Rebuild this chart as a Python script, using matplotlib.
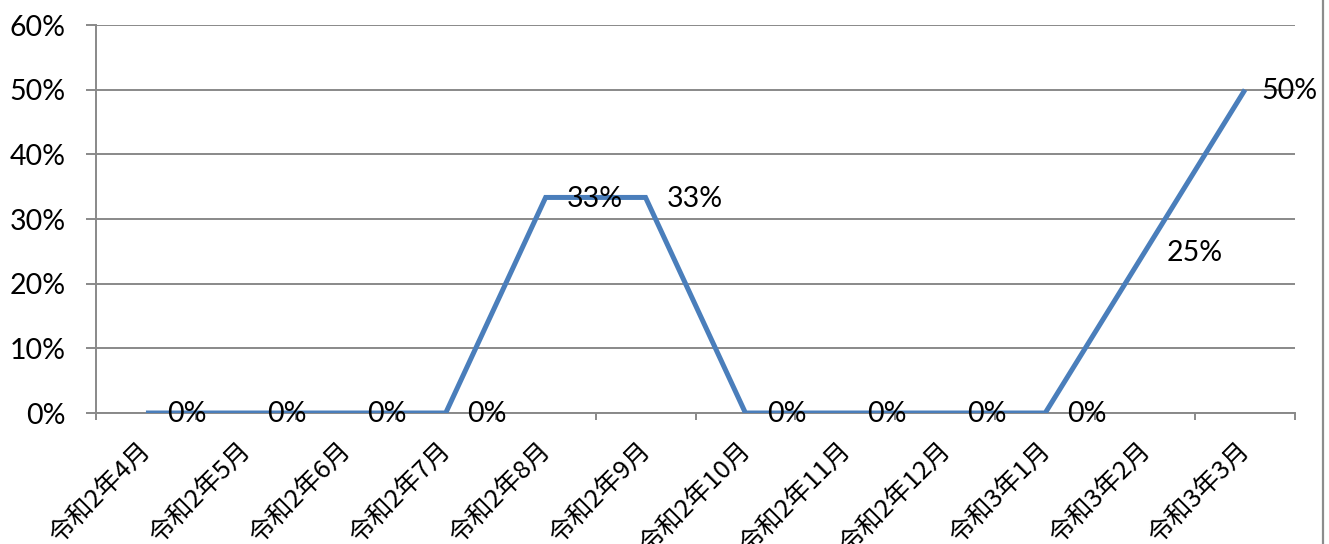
import matplotlib
matplotlib.use("Agg")
import matplotlib.pyplot as plt
from matplotlib.lines import Line2D
from matplotlib.ticker import FixedLocator, FuncFormatter

plt.rcParams['font.family'] = ['Lato', 'Noto Sans CJK JP', 'DejaVu Sans']

months = ["令和2年4月", "令和2年5月", "令和2年6月", "令和2年7月", "令和2年8月", "令和2年9月",
          "令和2年10月", "令和2年11月", "令和2年12月", "令和3年1月", "令和3年2月", "令和3年3月"]
rates = [0.0, 0.0, 0.0, 0.0, 1/3, 1/3, 0.0, 0.0, 0.0, 0.0, 0.25, 0.5]
y_ticks = [0.0, 0.1, 0.2, 0.3, 0.4, 0.5, 0.6]

W, H, DPI = 1329, 544, 100
fig = plt.figure(figsize=(W / DPI, H / DPI), dpi=DPI)
ax = fig.add_axes([96 / W, (H - 413) / H, (1295 - 96) / W, (413 - 25) / H])

grid_c = "#898989"
line_c = "#4A7EBB"

x = list(range(len(months)))
ax.plot(x, rates, color=line_c, lw=3.6, solid_capstyle='butt', solid_joinstyle='miter', zorder=3)

# value labels to the right of each point; the last one is nudged to stay inside the chart
for xi, v in zip(x, rates):
    dx = 12 if xi == len(months) - 1 else 15.5
    ax.annotate(f"{round(v * 100):d}%", (xi, v), xytext=(dx, -1), textcoords='offset points',
                ha='left', va='center', fontsize=20.5, color='black', zorder=4)

ax.set_xlim(-0.5, len(months) - 0.5)
ax.set_ylim(0, 0.6)

ax.set_yticks(y_ticks)
ax.yaxis.set_major_formatter(FuncFormatter(lambda v, p: f"{round(v * 100):d}%"))
ax.tick_params(axis='y', length=7, width=1.4, color=grid_c, pad=15, labelsize=20.5)
ax.grid(axis='y', color=grid_c, lw=1.4)
ax.set_axisbelow(True)

# category labels, rotated 45 degrees and ending under each category centre
ax.set_xticks(x)
ax.set_xticklabels([])
ax.tick_params(axis='x', which='major', length=0)
for xi, name in zip(x, months):
    ax.annotate(name, (xi, 0), xycoords=('data', 'axes fraction'),
                xytext=(-5.8, -17.3), textcoords='offset points',
                rotation=45, rotation_mode='anchor', ha='right', va='top',
                fontsize=18.5, family=['Noto Sans CJK JP', 'DejaVu Sans'],
                annotation_clip=False)
ax.xaxis.set_minor_locator(FixedLocator([i - 0.5 for i in range(len(months) + 1)]))
ax.tick_params(axis='x', which='minor', length=5, width=1.4, color=grid_c)

for s in ('top', 'right'):
    ax.spines[s].set_visible(False)
for s in ('left', 'bottom'):
    ax.spines[s].set_color(grid_c)
    ax.spines[s].set_linewidth(1.4)

fig.add_artist(Line2D([1323 / W, 1323 / W], [0, 1], transform=fig.transFigure,
                      color="#8c8c8c", lw=1.6))

fig.savefig("out.png", dpi=DPI, facecolor='white')
